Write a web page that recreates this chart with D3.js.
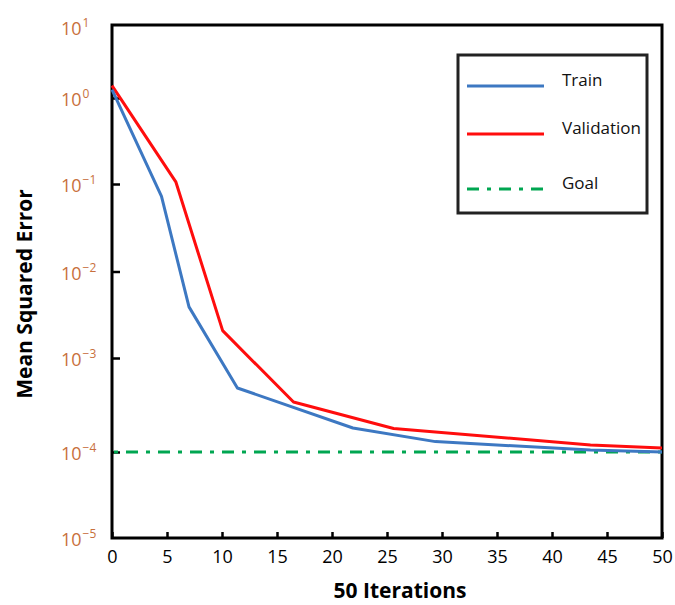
<!DOCTYPE html>
<html>
<head>
<meta charset="utf-8">
<script src="https://cdn.jsdelivr.net/npm/d3@7"></script>
<style>
  html, body { margin: 0; padding: 0; background: #fff; }
  svg { display: block; font-family: "Open Sans", Lato, sans-serif; }
</style>
</head>
<body>
<svg id="chart" width="675" height="605"></svg>
<script>
// ---- data ----
const trainIter = [0, 4.5, 7, 11.4, 21.9, 29.4, 43.5, 50];
const trainMSE  = [1.3, 0.072, 0.0039, 0.00048, 0.00018, 0.000129, 0.000105, 0.0001];
const valIter   = [0, 5.8, 10.06, 16.5, 25.6, 43.5, 50];
const valMSE    = [1.48, 0.106, 0.00207, 0.00034, 0.000178, 0.000119, 0.00011];
const goalIter  = [0, 50];
const goalMSE   = [0.0001, 0.0001];
const xTicks    = [0, 5, 10, 15, 20, 25, 30, 35, 40, 45, 50];
const yTicks    = [1e-5, 1e-4, 1e-3, 1e-2, 1e-1, 1e0, 1e1];
const yExponents = ["−5", "−4", "−3", "−2", "−1", "0", "1"];
const seriesNames = ["Train", "Validation", "Goal"];
const seriesColors = ["#3d78c2", "#ff0d0d", "#00a651"];

// ---- layout ----
const svg = d3.select("#chart");
const L = 112, R = 662, T = 25, B = 538;

const x = d3.scaleLinear().domain([0, 50]).range([L, R]);
// log scale, piecewise to follow the drawn decade positions
const y = d3.scaleLog().domain(yTicks).range([538, 452, 358, 271.5, 184, 98, 25]);

// ---- axes ----
const xAxis = d3.axisBottom(x).tickValues(xTicks).tickSizeInner(-6).tickSizeOuter(0).tickPadding(12);
const gx = svg.append("g").attr("transform", `translate(0,${B})`).call(xAxis);
gx.select(".domain").remove();
gx.selectAll(".tick line").attr("stroke", "#000").attr("stroke-width", 2.5);
gx.selectAll(".tick text").attr("font-size", 18).attr("fill", "#000")
  .attr("font-family", "'Open Sans', Lato, sans-serif");

const yAxis = d3.axisLeft(y).tickValues(yTicks.slice(1, 6)).tickSizeInner(-8).tickSizeOuter(0).tickFormat("");
const gy = svg.append("g").attr("transform", `translate(${L},0)`).call(yAxis);
gy.select(".domain").remove();
gy.selectAll(".tick line").attr("stroke", "#000").attr("stroke-width", 2.5);

// y tick labels with superscripts
const yl = svg.append("g").attr("fill", "#c8703c");
yTicks.forEach((v, i) => {
  const t = yl.append("text")
    .attr("x", 61)
    .attr("y", (i === 6 ? y(v) + 2 : y(v)) + 8)
    .attr("font-size", 18);
  t.append("tspan").text("10");
  t.append("tspan").attr("dy", -8).attr("dx", 1).attr("font-size", 12).text(yExponents[i]);
});

// ---- frame ----
svg.append("rect")
  .attr("x", L).attr("y", T).attr("width", R - L).attr("height", B - T)
  .attr("fill", "none").attr("stroke", "#000").attr("stroke-width", 3);

// ---- lines ----
const line = d3.line().x(d => x(d[0])).y(d => y(d[1]));
const goal = d3.zip(goalIter, goalMSE);
svg.append("path").datum(goal).attr("d", line)
  .attr("fill", "none").attr("stroke", seriesColors[2]).attr("stroke-width", 3)
  .attr("stroke-dasharray", "12,8,4,8").attr("stroke-dashoffset", -14);

svg.append("path").datum(d3.zip(valIter, valMSE)).attr("d", line)
  .attr("fill", "none").attr("stroke", seriesColors[1]).attr("stroke-width", 3)
  .attr("stroke-linejoin", "round");
svg.append("path").datum(d3.zip(trainIter, trainMSE)).attr("d", line)
  .attr("fill", "none").attr("stroke", seriesColors[0]).attr("stroke-width", 3)
  .attr("stroke-linejoin", "round");

// ---- axis titles ----
svg.append("text").attr("x", 400).attr("y", 598).attr("text-anchor", "middle")
  .attr("font-size", 21).attr("font-weight", "bold").attr("fill", "#000").text("50 Iterations");
svg.append("text").attr("transform", "translate(32,294) rotate(-90)").attr("text-anchor", "middle")
  .attr("font-size", 21).attr("font-weight", "bold").attr("fill", "#000").text("Mean Squared Error");

// ---- legend ----
const lg = svg.append("g");
lg.append("rect").attr("x", 458).attr("y", 55).attr("width", 189).attr("height", 158)
  .attr("fill", "#fff").attr("stroke", "#222").attr("stroke-width", 3);
const legY = [86, 134, 189];
seriesNames.forEach((n, i) => {
  const ln = lg.append("line").attr("x1", 467).attr("x2", 544).attr("y1", legY[i]).attr("y2", legY[i])
    .attr("stroke", seriesColors[i]).attr("stroke-width", 3);
  if (i === 2) ln.attr("stroke-dasharray", "12,8,4,8");
  lg.append("text").attr("x", 562).attr("y", legY[i]).attr("font-size", 17).attr("fill", "#111").text(n);
});
</script>
</body>
</html>
